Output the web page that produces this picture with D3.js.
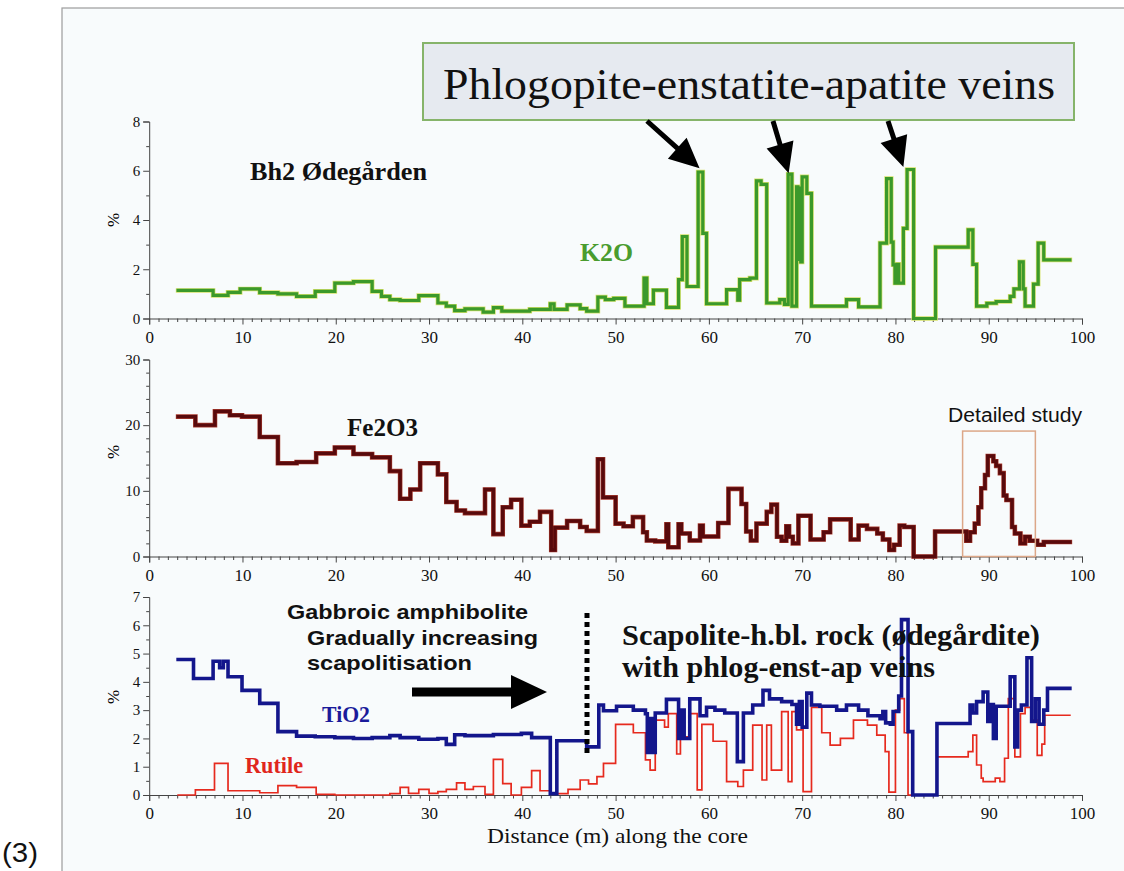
<!DOCTYPE html>
<html><head><meta charset="utf-8">
<script src="https://cdn.jsdelivr.net/npm/d3@7"></script>
<style>body{margin:0;background:#fff;} svg{display:block;}</style>
</head><body><svg id="c" width="1124" height="871"></svg>
<script>
// ---------- data (depth in m along the core, value in %) ----------
const xTicks = [0,10,20,30,40,50,60,70,80,90,100];
const k2oTicks = [0,2,4,6,8];
const feTicks = [0,10,20,30];
const tiTicks = [0,1,2,3,4,5,6,7];

const k2oDepth = [3.1,6.85,8.45,9.75,11.85,13.8,15.8,17.8,19.9,21.9,23.9,24.9,25.8,26.9,28.9,30.95,31.85,32.75,33.85,35.8,36.9,37.8,40.8,43.0,43.4,44.8,46.2,46.9,48.1,48.9,49.8,51.0,53.05,53.35,54.05,55.45,56.75,57.15,57.65,58.85,59.35,59.75,61.9,63.1,63.3,64.4,65.1,65.6,66.2,67.6,68.1,68.5,68.9,69.4,69.55,69.7,69.85,70.0,70.5,71.0,74.75,76.05,78.35,79.05,79.55,79.75,79.95,80.15,80.35,80.85,81.25,81.95,84.3,87.8,88.3,88.7,89.8,90.8,92.3,92.7,93.3,93.7,93.9,94.8,95.3,95.9,98.7];
const k2oVal   = [1.14,0.94,1.06,1.2,1.05,1.0,0.9,1.1,1.44,1.5,1.1,0.9,0.77,0.73,0.93,0.63,0.5,0.32,0.39,0.26,0.44,0.3,0.37,0.6,0.37,0.55,0.4,0.3,0.87,0.77,0.82,0.5,1.64,0.6,1.15,0.45,1.58,3.33,1.3,5.95,3.46,0.6,1.17,0.75,1.58,1.64,5.59,5.45,0.63,0.77,0.57,5.86,0.5,5.35,2.4,5.3,2.3,5.75,5.08,0.5,0.77,0.47,3.06,5.68,3.1,2.18,1.44,2.2,1.44,3.66,6.05,0,2.9,3.6,2.2,0.5,0.62,0.69,0.9,1.2,2.3,1.2,0.5,1.4,3.06,2.38,2.38];

const feDepth = [3.1,4.95,7.05,8.65,9.95,11.85,13.8,15.8,17.9,19.9,21.9,23.9,25.8,26.9,28.0,29.05,30.95,31.85,32.95,33.85,36.0,36.9,37.9,38.8,39.9,40.8,41.9,43.1,43.5,44.8,46.2,46.9,48.1,48.65,50.0,50.85,51.85,52.95,53.35,54.25,55.45,55.65,56.75,57.05,57.95,59.05,59.35,61.0,62.1,63.5,64.0,64.5,65.1,66.2,66.7,67.3,67.8,68.3,68.6,69.0,69.6,70.9,72.3,73.0,75.2,76.05,76.95,78.05,78.65,79.35,79.85,80.45,80.95,81.95,84.25,87.6,88.0,88.5,88.9,89.2,89.6,89.9,90.5,90.8,91.2,91.6,91.9,92.5,92.8,93.4,93.9,94.4,95.2,95.9,98.7];
const feVal   = [21.3,20.0,22.1,21.5,21.3,18.2,14.2,14.4,15.7,16.6,15.6,15.1,13.0,8.8,10.2,14.2,12.5,8.3,7.0,6.6,10.2,3.4,7.5,8.65,4.7,5.3,6.8,1.0,4.4,5.4,4.5,3.9,14.8,9.0,5.0,4.6,6.0,3.7,2.44,2.3,4.9,1.4,4.9,3.5,2.44,4.7,3.05,5.1,10.3,8.0,3.8,2.44,5.0,6.8,7.9,3.0,2.4,4.6,3.0,2.0,6.2,2.6,3.7,5.65,2.6,4.7,4.2,3.5,2.6,1.0,1.8,4.7,4.5,0,3.8,2.4,3.7,5.0,7.5,10.4,12.4,15.3,14.5,13.8,12.7,9.3,8.6,4.5,3.5,2.0,3.0,2.4,1.8,2.2,2.2];

const tiDepth = [3.1,4.75,6.85,7.55,7.95,8.45,9.95,11.85,13.8,15.8,17.8,19.9,21.9,23.9,25.8,26.9,28.9,30.95,31.85,32.75,33.85,36.0,36.9,39.9,41.0,43.0,43.7,46.9,48.2,48.7,50.1,51.9,53.2,53.4,53.65,53.9,54.25,55.45,56.75,57.05,57.35,57.95,59.05,59.75,60.65,61.7,63.05,63.7,64.7,65.8,66.5,67.8,68.9,69.4,69.7,70.0,70.5,71.0,71.9,73.7,74.75,76.05,77.05,78.35,78.65,78.95,79.45,79.75,80.35,80.65,81.35,81.85,84.45,88.0,88.3,88.7,89.4,89.9,90.2,90.5,90.8,92.3,92.8,93.1,93.5,94.1,94.6,95.0,95.4,95.9,96.3,98.7];
const tiVal   = [4.79,4.12,4.73,4.5,4.73,4.18,3.7,3.24,2.24,2.08,2.06,2.03,2.0,2.03,2.1,2.03,1.97,2.0,1.79,2.13,2.1,2.1,2.14,2.18,2.03,0.05,1.92,1.7,3.18,2.98,3.14,3.0,2.87,1.5,2.7,1.5,2.9,3.38,2.0,3.0,2.0,3.4,2.8,3.1,3.0,2.9,1.18,2.9,3.18,3.7,3.4,3.3,3.2,2.5,3.3,2.4,3.6,3.18,3.14,3.0,3.18,3.0,2.8,2.7,2.95,2.55,2.5,2.95,3.5,6.2,2.24,0,2.53,3.18,2.9,3.3,3.64,2.6,3.2,2.0,3.14,4.18,1.7,3.0,3.18,4.85,2.6,3.4,2.5,3.0,3.77,3.77];

const rutDepth = [3.1,4.95,7.0,8.45,11.85,13.8,15.8,17.9,19.9,25.8,26.9,27.8,28.9,30.0,30.95,31.85,32.95,33.85,34.75,36.0,36.9,37.9,38.8,39.9,41.0,41.9,43.0,44.9,46.2,47.1,48.0,48.7,50.0,51.9,53.2,53.7,54.25,55.25,55.65,56.55,56.95,57.85,58.75,59.25,60.45,61.9,63.1,63.7,64.7,65.7,66.2,66.7,67.8,68.5,68.9,69.4,70.1,71.0,72.1,73.0,74.1,75.5,77.0,78.0,78.9,79.3,80.0,80.45,80.95,81.35,84.45,87.8,88.3,88.7,89.2,89.4,90.7,91.2,91.7,92.1,92.8,93.4,93.9,94.6,95.2,95.7,96.0,98.7];
const rutVal   = [0,0.18,1.12,0.15,0.08,0.33,0.27,0.02,0,0.05,0.27,0.06,0.2,0.06,0.12,0.2,0.43,0.2,0.3,0.02,1.26,0.4,0,0.27,0.86,0.15,0.05,0.2,0.53,0.39,0.65,1.12,2.5,2.2,1.24,0.88,2.65,2.4,2.88,1.45,2.06,2.88,0.18,2.5,1.9,0.47,0.3,0.88,2.47,0.53,2.47,0.88,2.95,0.47,2.95,2.3,0.12,3.1,2.2,1.76,2.0,2.65,2.47,2.12,1.53,0.1,3.0,3.41,2.2,0,1.35,1.53,2.12,1.06,0.6,0.47,0.6,0.47,1.3,3.41,1.35,2.88,3.1,2.65,1.4,1.8,2.82,2.82];

// ---------- drawing ----------
const svg = d3.select('#c');
const SERIF = '"Liberation Serif","Times New Roman",serif';
const SANS = '"Liberation Sans",Arial,sans-serif';

svg.append('rect').attr('x',62).attr('y',8).attr('width',1080).attr('height',880)
  .attr('fill','#f8fbfc').attr('stroke','#9c9c9c').attr('stroke-width',1.2);

const x = d3.scaleLinear().domain([0,100]).range([149.2,1082]);

const panels = [
  {y: d3.scaleLinear().domain([0,8]).range([318.5,121.5]), ticks:k2oTicks, minorStep:1, max:8, labY:220},
  {y: d3.scaleLinear().domain([0,30]).range([556.5,359.5]), ticks:feTicks, minorStep:2, max:30, labY:452},
  {y: d3.scaleLinear().domain([0,7]).range([795,597]), ticks:tiTicks, minorStep:0.5, max:7, labY:697}
];

panels.forEach(p => {
  const g = svg.append('g');
  const y0 = p.y(0);
  const xa = d3.axisBottom(x).tickValues(xTicks).tickSize(6).tickFormat(d3.format('d'));
  const gx = g.append('g').attr('transform',`translate(0,${y0})`).call(xa);
  gx.select('.domain').attr('stroke','#444');
  gx.selectAll('.tick line').attr('stroke','#444');
  gx.selectAll('text').attr('font-family',SERIF).attr('font-size',17).attr('fill','#111').attr('dy','0.9em');
  const minorX = d3.range(0,101,1).filter(v => v%10!==0);
  const gxm = g.append('g').attr('transform',`translate(0,${y0})`)
    .call(d3.axisBottom(x).tickValues(minorX).tickSize(3.5).tickFormat(''));
  gxm.select('.domain').remove();
  gxm.selectAll('.tick line').attr('stroke','#444');
  const ya = d3.axisLeft(p.y).tickValues(p.ticks).tickSize(6).tickFormat(d3.format('d'));
  const gy = g.append('g').attr('transform',`translate(${x(0)},0)`).call(ya);
  gy.select('.domain').attr('stroke','#444');
  gy.selectAll('.tick line').attr('stroke','#444');
  gy.selectAll('text').attr('font-family',SERIF).attr('font-size',15).attr('fill','#111');
  const minorY = d3.range(0,p.max+0.001,p.minorStep).filter(v => !p.ticks.includes(v));
  const gym = g.append('g').attr('transform',`translate(${x(0)},0)`)
    .call(d3.axisLeft(p.y).tickValues(minorY).tickSize(3).tickFormat(''));
  gym.select('.domain').remove();
  gym.selectAll('.tick line').attr('stroke','#444');
  g.append('text').attr('transform',`translate(119,${p.labY}) rotate(-90)`)
    .attr('text-anchor','middle').attr('font-family',SERIF).attr('font-size',17).text('%');
});

function stepLine(depth, vals, yScale){
  return d3.line().curve(d3.curveStepAfter)
    .x(i => x(depth[i])).y(i => yScale(vals[i]))(d3.range(depth.length));
}
function drawSeries(depth, vals, yScale, color, w){
  svg.append('path').attr('d', stepLine(depth, vals, yScale))
    .attr('fill','none').attr('stroke',color).attr('stroke-width',w)
    .attr('stroke-linejoin','miter').attr('stroke-linecap','square');
}

drawSeries(k2oDepth, k2oVal, panels[0].y, '#d6e26a', 4.6);
drawSeries(k2oDepth, k2oVal, panels[0].y, '#3b992a', 3.2);
drawSeries(feDepth, feVal, panels[1].y, '#a83a2c', 4.6);
drawSeries(feDepth, feVal, panels[1].y, '#580a0c', 3.4);
drawSeries(rutDepth, rutVal, panels[2].y, '#e62a1e', 1.7);
drawSeries(tiDepth, tiVal, panels[2].y, '#13168c', 3.6);

// ---------- annotations ----------
function arrow(x1,y1,x2,y2,sw,hl,hw){
  const dx=x2-x1, dy=y2-y1, L=Math.hypot(dx,dy), ux=dx/L, uy=dy/L, px=-uy, py=ux;
  const bx=x2-ux*hl, by=y2-uy*hl;
  const pts=[[x1+px*sw/2,y1+py*sw/2],[bx+px*sw/2,by+py*sw/2],[bx+px*hw/2,by+py*hw/2],[x2,y2],
             [bx-px*hw/2,by-py*hw/2],[bx-px*sw/2,by-py*sw/2],[x1-px*sw/2,y1-py*sw/2]];
  svg.append('path').attr('d','M'+pts.map(p=>p.join(',')).join('L')+'Z').attr('fill','#000');
}
function label(t,xp,yp,font,size,weight,color,len,anchor){
  const e = svg.append('text').attr('x',xp).attr('y',yp).attr('font-family',font)
    .attr('font-size',size).attr('font-weight',weight||'normal').attr('fill',color||'#111')
    .attr('text-anchor',anchor||'start').text(t);
  if(len) e.attr('textLength',len).attr('lengthAdjust','spacingAndGlyphs');
  return e;
}

svg.append('rect').attr('x',423).attr('y',43).attr('width',651).attr('height',77)
  .attr('fill','#e6eaf0').attr('stroke','#86b46a').attr('stroke-width',2);
label('Phlogopite-enstatite-apatite veins',443,99,SERIF,45,'normal','#111',612);
const yk = panels[0].y;
arrow(647,121, x(59.0), yk(6.1), 5, 30, 28);
arrow(773,121, x(68.55), yk(5.9), 5, 30, 28);
arrow(888,121, x(80.85), yk(6.15), 5, 30, 28);

label('Bh2 Ødegården',250,180,SERIF,26,'bold','#111',177);
label('K2O',580,261,SERIF,25,'bold','#4a9c2e',53);
label('Fe2O3',347,436,SERIF,26,'bold','#111',71);

const yf = panels[1].y;
svg.append('rect').attr('x',x(87.2)).attr('y',yf(19.1)).attr('width',x(95.0)-x(87.2)).attr('height',yf(0)-yf(19.1))
  .attr('fill','none').attr('stroke','#dca788').attr('stroke-width',1.5);
label('Detailed study',948,422,SANS,20,'normal','#111',134);

label('Gabbroic amphibolite',287,619,SANS,21,'bold','#111',241);
label('Gradually increasing',307,645,SANS,21,'bold','#111',231);
label('scapolitisation',307,670,SANS,21,'bold','#111',165);
arrow(412,692,547,692,9,36,34);
svg.append('line').attr('x1',587).attr('x2',587).attr('y1',613).attr('y2',754)
  .attr('stroke','#000').attr('stroke-width',5).attr('stroke-dasharray','5,4');

label('Scapolite-h.bl. rock (ødegårdite)',622,645,SERIF,29,'bold','#111',418);
label('with phlog-enst-ap veins',622,677,SERIF,29,'bold','#111',313);

label('TiO2',322,722,SERIF,24,'bold','#1a1a9a',48);
label('Rutile',245,773,SERIF,23,'bold','#e0261c',58);

label('Distance (m) along the core',487,843,SERIF,22,'normal','#111',261);
label('(3)',2,862,SANS,27,'normal','#111',36);
</script></body></html>
